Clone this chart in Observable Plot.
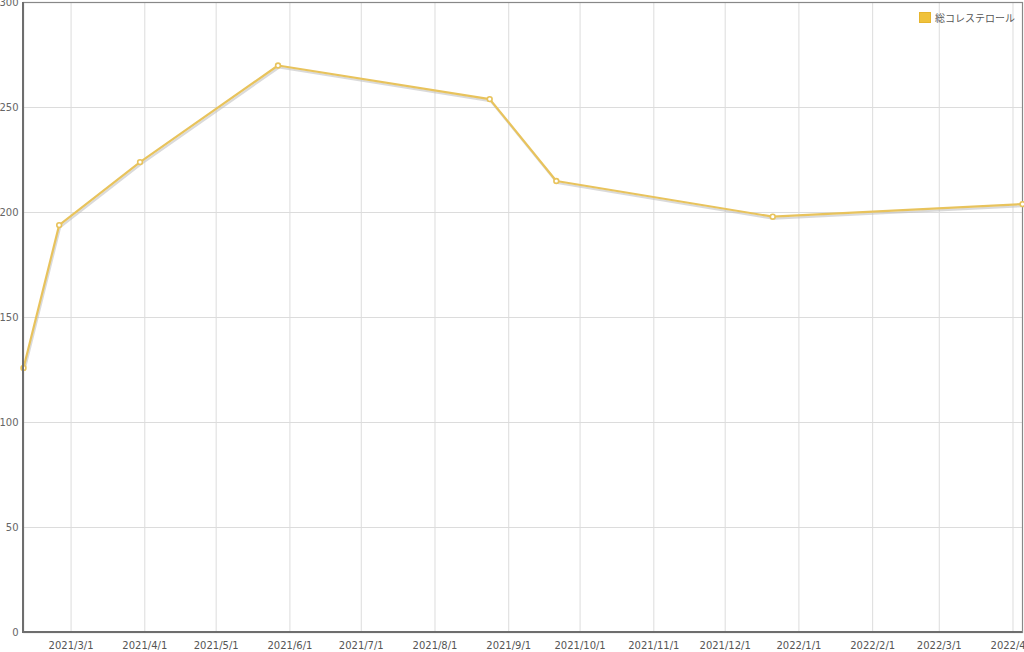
<!DOCTYPE html>
<html>
<head>
<meta charset="utf-8">
<script src="https://cdn.jsdelivr.net/npm/d3@7"></script>
<script src="https://cdn.jsdelivr.net/npm/@observablehq/plot@0.6"></script>
<style>
  html, body { margin: 0; padding: 0; background: #fff; }
  #wrap { position: relative; width: 1024px; height: 652px; overflow: hidden; }
  #legend { position: absolute; top: 10px; right: 9px; display: flex; align-items: center;
    font: 10px "DejaVu Sans", "Noto Sans CJK JP", sans-serif; color: #555; }
  #legend .sw { width: 10px; height: 9px; background: #f0c23c; border: 1px solid #e6b52e; margin-right: 4px; }
</style>
</head>
<body>
<div id="wrap"><div id="legend"><span class="sw"></span><span id="lgtext"></span></div></div>
<script>
const seriesName = "総コレステロール";
const dates = ["2021-02-09", "2021-02-24", "2021-03-30", "2021-05-27", "2021-08-24", "2021-09-21", "2021-12-21", "2022-04-05"];
const values = [126, 194, 224, 270, 254, 215, 198, 204];
const yTicks = [0, 50, 100, 150, 200, 250, 300];

const data = dates.map((d, i) => ({date: new Date(d + "T00:00:00Z"), value: values[i]}));
const monthTicks = d3.utcMonth.range(new Date("2021-03-01T00:00:00Z"), new Date("2022-04-02T00:00:00Z"));
const fmt = d => `${d.getUTCFullYear()}/${d.getUTCMonth() + 1}/${d.getUTCDate()}`;
const lineColor = "#e8c35c";

document.getElementById("lgtext").textContent = seriesName;

const chart = Plot.plot({
  width: 1024,
  height: 652,
  marginLeft: 23,
  marginRight: 2,
  marginTop: 2,
  marginBottom: 20,
  style: {fontFamily: "'DejaVu Sans', 'Noto Sans CJK JP', sans-serif", fontSize: "10px", color: "#666", background: "#fff", overflow: "visible"},
  x: {type: "utc", domain: d3.extent(data, d => d.date), label: null},
  y: {domain: [0, 300], label: null},
  marks: [
    Plot.gridY(yTicks, {stroke: "#dcdcdc", strokeOpacity: 1}),
    Plot.gridX(monthTicks, {stroke: "#dcdcdc", strokeOpacity: 1}),
    Plot.axisY(yTicks, {tickSize: 0, tickPadding: 5, fill: "#666", label: null}),
    Plot.axisX(monthTicks, {tickSize: 0, tickPadding: 9, tickFormat: fmt, fill: "#555", label: null}),
    Plot.frame({stroke: "#888", strokeWidth: 1.2}),
    Plot.line(data, {x: "date", y: "value", stroke: "#bbb", strokeOpacity: 0.55, strokeWidth: 2.2, dx: 1, dy: 2}),
    Plot.line(data, {x: "date", y: "value", stroke: lineColor, strokeWidth: 2.2}),
    Plot.dot(data, {x: "date", y: "value", r: 2.4, fill: "#fff", stroke: lineColor, strokeWidth: 1.6})
  ]
});
chart.style.display = "block";
document.getElementById("wrap").prepend(chart);

// emphasized left & bottom axis lines, positioned via Plot's own scales
const xs = chart.scale("x"), ys = chart.scale("y");
const svg = d3.select(chart);
const x0 = xs.range[0], x1 = xs.range[1], y0 = ys.range[0], y1 = ys.range[1];
svg.append("path")
  .attr("d", `M${x0},${y1}L${x0},${y0}L${x1},${y0}`)
  .attr("fill", "none").attr("stroke", "#6e6e6e").attr("stroke-width", 2);
</script>
</body>
</html>
